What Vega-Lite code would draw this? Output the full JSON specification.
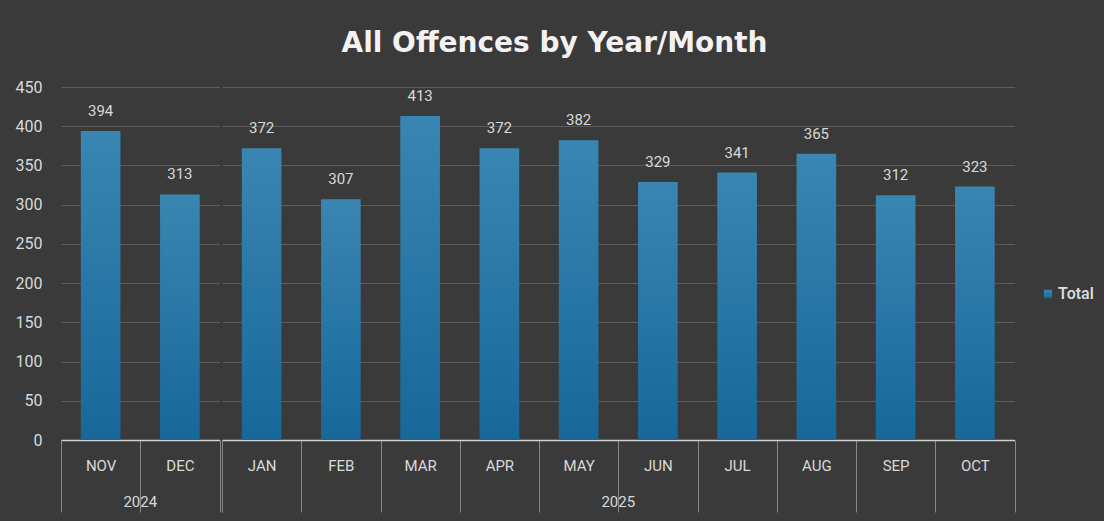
{
  "$schema": "https://vega.github.io/schema/vega-lite/v6.json",
  "background": "#3a3a3a",
  "padding": {"left": 15, "top": 30, "right": 10, "bottom": 8},
  "title": {
    "text": "All Offences by Year/Month",
    "font": "DejaVu Sans",
    "fontSize": 28,
    "fontWeight": "bold",
    "color": "#f2f2f2",
    "anchor": "middle",
    "offset": 21
  },
  "data": {
    "values": [
      {"year": "2024", "month": "NOV", "order": 1, "value": 394, "series": "Total"},
      {"year": "2024", "month": "DEC", "order": 2, "value": 313, "series": "Total"},
      {"year": "2025", "month": "JAN", "order": 3, "value": 372, "series": "Total"},
      {"year": "2025", "month": "FEB", "order": 4, "value": 307, "series": "Total"},
      {"year": "2025", "month": "MAR", "order": 5, "value": 413, "series": "Total"},
      {"year": "2025", "month": "APR", "order": 6, "value": 372, "series": "Total"},
      {"year": "2025", "month": "MAY", "order": 7, "value": 382, "series": "Total"},
      {"year": "2025", "month": "JUN", "order": 8, "value": 329, "series": "Total"},
      {"year": "2025", "month": "JUL", "order": 9, "value": 341, "series": "Total"},
      {"year": "2025", "month": "AUG", "order": 10, "value": 365, "series": "Total"},
      {"year": "2025", "month": "SEP", "order": 11, "value": 312, "series": "Total"},
      {"year": "2025", "month": "OCT", "order": 12, "value": 323, "series": "Total"}
    ]
  },
  "facet": {
    "column": {
      "field": "year",
      "type": "ordinal",
      "header": {
        "title": null,
        "labelOrient": "bottom",
        "labelFont": "Roboto",
        "labelFontSize": 15,
        "labelColor": "#d9d9d9",
        "labelPadding": -18
      }
    }
  },
  "spacing": 0,
  "resolve": {"scale": {"x": "independent"}},
  "spec": {
    "width": {"step": 79.25},
    "height": 353,
    "encoding": {
      "x": {
        "field": "month",
        "type": "ordinal",
        "sort": {"field": "order"},
        "scale": {"paddingInner": 0, "paddingOuter": 0},
        "axis": {
          "title": null,
          "labelAngle": 0,
          "labelFont": "Roboto",
          "labelFontSize": 15,
          "labelColor": "#d9d9d9",
          "domainColor": "#d0d0d0",
          "domainWidth": 1.5,
          "tickBand": "extent",
          "tickSize": 72,
          "labelPadding": -54,
          "encode": {
            "ticks": {
              "update": {
                "x": {"signal": "datum.extra ? range('child_x')[1] : scale('child_x', datum.value)"},
                "x2": {"signal": "datum.extra ? range('child_x')[1] : scale('child_x', datum.value)"},
                "stroke": {"signal": "(datum.extra || datum.value == 'NOV' || datum.value == 'JAN') ? '#bfbfbf' : 'transparent'"},
                "strokeWidth": {"signal": "(datum.extra || datum.value == 'NOV' || datum.value == 'JAN') ? 1.5 : 0"}
              }
            }
          }
        }
      },
      "y": {
        "field": "value",
        "type": "quantitative",
        "scale": {"domain": [0, 450]},
        "axis": {
          "title": null,
          "values": [0, 50, 100, 150, 200, 250, 300, 350, 400, 450],
          "domain": false,
          "ticks": false,
          "labelFont": "Roboto",
          "labelFontSize": 16,
          "labelColor": "#d9d9d9",
          "labelPadding": 18,
          "gridColor": "#5c5c5c",
          "gridWidth": 1
        }
      }
    },
    "layer": [
      {
        "mark": {
          "type": "bar",
          "width": {"band": 0.5},
          "color": {"gradient": "linear", "x1": 0, "y1": 0, "x2": 0, "y2": 1,
                    "stops": [{"offset": 0, "color": "#3a86b2"}, {"offset": 1, "color": "#17679a"}]}
        },
        "encoding": {
          "opacity": {
            "field": "series",
            "type": "nominal",
            "scale": {"range": [1]},
            "legend": {
              "title": null,
              "orient": "none",
              "legendX": 979,
              "legendY": 199,
              "symbolType": "square",
              "symbolSize": 70,
              "symbolFillColor": "#2a76a2",
              "symbolStrokeWidth": 0,
              "labelFont": "Roboto",
              "labelFontSize": 16,
              "labelFontWeight": 500,
              "labelColor": "#e0e0e0",
              "labelOffset": 2
            }
          }
        }
      },
      {
        "mark": {
          "type": "text",
          "baseline": "bottom",
          "dy": -12,
          "font": "Roboto",
          "fontSize": 15,
          "color": "#d9d9d9"
        },
        "encoding": {"text": {"field": "value", "type": "quantitative"}}
      }
    ]
  },
  "config": {"view": {"stroke": null}}
}
